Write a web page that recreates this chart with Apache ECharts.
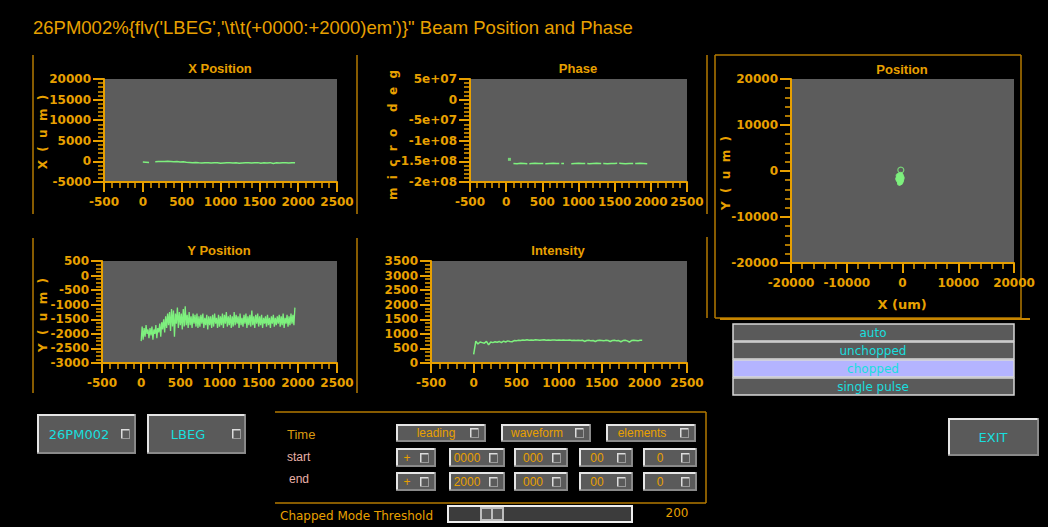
<!DOCTYPE html>
<html><head><meta charset="utf-8">
<script src="https://cdn.jsdelivr.net/npm/echarts@6/dist/echarts.min.js"></script>
<style>html,body{margin:0;padding:0;background:#000;}#c{width:1048px;height:527px;}</style>
</head><body><div id="c"></div>
<script>
// ---------- data ----------
const pageTitle = "26PM002%{flv('LBEG','\\t\\t(+0000:+2000)em')}\" Beam Position and Phase";
const plotTitles = ['X Position', 'Phase', 'Y Position', 'Intensity', 'Position'];
const timeTicks = [-500, 0, 500, 1000, 1500, 2000, 2500];
const phaseTickValues = [-200000000, -150000000, -100000000, -50000000, 0, 50000000];
const phaseTickLabels = ['-2e+08', '-1.5e+08', '-1e+08', '-5e+07', '0', '5e+07'];

// X position (um), samples every 40 from t=0
const xPosStart = 0, xPosStep = 40;
const xPosValues = [-150,-200,-250,null,-100,-50,0,-50,50,0,-100,-50,-150,-100,-200,-250,-300,-250,-350,-400,
  -300,-350,-400,-300,-350,-450,-400,-350,-300,-400,-350,-450,-400,-350,-300,-400,-350,-300,-450,-350,
  -400,-300,-500,-350,-400,-300,-350,-400,-300,-350];

// Phase (micro deg), samples every 50 from t=100
const phaseStart = 100, phaseStep = 50;
const phaseValues = [-155000000,-155500000,-154500000,-155000000,-156000000,-155000000,-154500000,-155000000,-155000000,-155500000,
  -155000000,-154500000,-155000000,-155500000,-155000000,null,-155500000,-155000000,-154500000,-155000000,
  -155000000,-155500000,-155000000,-154500000,-155000000,-155000000,-155500000,-155000000,-155000000,-154500000,
  -155000000,-155500000,-155000000,-155000000,-155000000,-154500000,-155000000,-155500000];
const phaseFirstPoint = [[45, -145000000]];

// Y position (um), samples every 12.5 from t=0
const yPosStart = 0, yPosStep = 12.5;
const yPosValues = [
  -2250,-1750,-2200,-1800,-2100,-1700,-2000,-1850,-2150,-1800,
  -2050,-1750,-2200,-1850,-2000,-1700,-2150,-1800,-1950,-1650,
  -2100,-1600,-1850,-1500,-1950,-1400,-1800,-1300,-1700,-1250,
  -1900,-1150,-1750,-1200,-2100,-1300,-1650,-1100,-1800,-1250,
  -1700,-1300,-1850,-1150,-1750,-1050,-1700,-1350,-1800,-1250,
  -1700,-1400,-1800,-1300,-1650,-1350,-1750,-1300,-1800,-1400,
  -1750,-1350,-1650,-1300,-1800,-1450,-1700,-1350,-1850,-1400,
  -1700,-1400,-1800,-1350,-1750,-1300,-1650,-1450,-1800,-1350,
  -1750,-1400,-1700,-1300,-1800,-1350,-1650,-1250,-1750,-1400,
  -1700,-1350,-1800,-1400,-1750,-1250,-1700,-1350,-1650,-1400,
  -1800,-1300,-1700,-1450,-1750,-1350,-1650,-1300,-1800,-1400,
  -1700,-1350,-1750,-1200,-1700,-1400,-1800,-1350,-1650,-1300,
  -1750,-1400,-1700,-1350,-1800,-1450,-1650,-1400,-1750,-1350,
  -1700,-1450,-1800,-1400,-1650,-1350,-1750,-1450,-1700,-1400,
  -1650,-1350,-1750,-1400,-1700,-1300,-1800,-1450,-1650,-1350,
  -1750,-1400,-1700,-1300,-1650,-1350,-1700,-1100];

// Intensity, samples every 25 from t=0
const intStart = 0, intStep = 25;
const intValues = [
  300,750,650,720,700,680,740,620,720,700,
  730,710,740,700,750,720,760,740,730,770,
  760,780,770,790,780,800,780,790,780,800,
  790,780,790,800,780,790,780,790,790,780,
  790,780,790,780,780,790,770,780,770,780,
  770,780,740,770,780,760,770,740,770,780,
  770,760,780,770,740,770,780,760,770,730,
  770,780,760,720,770,780,770,760,780,780];

// Beam position scatter (um)
const posX = [-800,-600,-400,-200,-700,-500,-300,-100,-900,-650,-450,-250,-50,-750,-550,-350,-150,-600,-400,-200,-500,-300,-700,-450,-350,-250,-550,-650];
const posY = [-1000,-900,-1100,-950,-1400,-1300,-1500,-1350,-1700,-1600,-1800,-1650,-1550,-2000,-1900,-2100,-1950,-2300,-2400,-2200,-2600,-2500,-1800,-1200,-700,-2000,-2700,-1100];
const posMarker = [[-300, 200]];

// Widgets
const modeButtons = ['auto', 'unchopped', 'chopped', 'single pulse'];
const selectedMode = 'chopped';
const deviceButtons = ['26PM002', 'LBEG'];
const timeHeaders = ['leading', 'waveform', 'elements'];
const startFields = ['+', '0000', '000', '00', '0'];
const endFields = ['+', '2000', '000', '00', '0'];
const thresholdValue = '200';

// ---------- build ----------
const ORANGE = '#e8a000';
const FRAME = '#b57a00';
const GREEN = '#7ef07e';
const CYAN = '#19dede';
const PLOTBG = '#5c5c5c';
const LBL_FONT = 'DejaVu Sans';

function series1(start, step, vals) { return vals.map((v, i) => [start + i * step, v]); }

const grids = [
  {left: 104, top: 79, width: 233, height: 103},
  {left: 470, top: 79, width: 217, height: 103},
  {left: 102, top: 261, width: 235, height: 102},
  {left: 431, top: 261, width: 256, height: 102},
  {left: 791, top: 79, width: 223, height: 184}
].map(g => Object.assign({show: true, backgroundColor: PLOTBG, borderWidth: 0, containLabel: false}, g));

function axis(gridIndex, min, max, interval, minorSplit, fmt, isY) {
  return {
    type: 'value', gridIndex, min, max, interval,
    axisLine: {show: true, onZero: false, lineStyle: {color: ORANGE, width: 2}},
    axisTick: {show: true, length: isY ? 11 : 10, lineStyle: {color: ORANGE, width: 2}},
    minorTick: {show: true, splitNumber: minorSplit, length: 6, lineStyle: {color: ORANGE, width: 1.5}},
    splitLine: {show: false}, minorSplitLine: {show: false},
    axisLabel: {color: ORANGE, fontFamily: LBL_FONT, fontWeight: 'bold', fontSize: 12, margin: isY ? 13 : 14,
      formatter: fmt || (v => String(v)), showMinLabel: true, showMaxLabel: true}
  };
}

const xAxes = [
  axis(0, timeTicks[0], timeTicks[timeTicks.length - 1], 500, 5),
  axis(1, timeTicks[0], timeTicks[timeTicks.length - 1], 500, 5),
  axis(2, timeTicks[0], timeTicks[timeTicks.length - 1], 500, 5),
  axis(3, timeTicks[0], timeTicks[timeTicks.length - 1], 500, 5),
  axis(4, -20000, 20000, 10000, 5)
];
const yAxes = [
  axis(0, -5000, 20000, 5000, 5, null, true),
  axis(1, phaseTickValues[0], phaseTickValues[phaseTickValues.length - 1], 50000000, 5,
    v => { const i = phaseTickValues.indexOf(v); return i >= 0 ? phaseTickLabels[i] : ''; }, true),
  axis(2, -3000, 500, 500, 4, null, true),
  axis(3, 0, 3500, 500, 4, null, true),
  axis(4, -20000, 20000, 10000, 5, null, true)
];

const lineBase = {type: 'line', showSymbol: false, symbol: 'none', lineStyle: {color: GREEN, width: 1.5}, silent: true, animation: false, connectNulls: false};
const series = [
  Object.assign({}, lineBase, {xAxisIndex: 0, yAxisIndex: 0, data: series1(xPosStart, xPosStep, xPosValues)}),
  Object.assign({}, lineBase, {xAxisIndex: 1, yAxisIndex: 1, lineStyle: {color: GREEN, width: 1.5, type: [14, 2]}, data: series1(phaseStart, phaseStep, phaseValues)}),
  {type: 'scatter', xAxisIndex: 1, yAxisIndex: 1, symbol: 'rect', symbolSize: 3, itemStyle: {color: GREEN}, data: phaseFirstPoint, animation: false},
  Object.assign({}, lineBase, {xAxisIndex: 2, yAxisIndex: 2, lineStyle: {color: GREEN, width: 1.3}, data: series1(yPosStart, yPosStep, yPosValues)}),
  Object.assign({}, lineBase, {xAxisIndex: 3, yAxisIndex: 3, data: series1(intStart, intStep, intValues)}),
  {type: 'scatter', xAxisIndex: 4, yAxisIndex: 4, symbolSize: 5, itemStyle: {color: GREEN}, data: posX.map((x, i) => [x, posY[i]]), animation: false},
  {type: 'scatter', xAxisIndex: 4, yAxisIndex: 4, symbolSize: 6, itemStyle: {color: 'transparent', borderColor: GREEN, borderWidth: 1.2}, data: posMarker, animation: false}
];

// ---------- graphics (texts, frames, widgets) ----------
const g = [];
function T(x, y, text, color, font, align, rot) {
  g.push({type: 'text', x, y, rotation: rot || 0, silent: true,
    style: {text, fill: color, font, align: align || 'center', verticalAlign: 'middle', textAlign: align || 'center', textVerticalAlign: 'middle'}});
}
function L(x1, y1, x2, y2, c, w) { g.push({type: 'line', silent: true, shape: {x1, y1, x2, y2}, style: {stroke: c || FRAME, lineWidth: w || 1.5}}); }
function R(x, y, w, h, fill, stroke, lw) { g.push({type: 'rect', silent: true, shape: {x, y, width: w, height: h}, style: {fill: fill, stroke: stroke || 'none', lineWidth: lw || 0}}); }
function bevel(x, y, w, h, fill) {
  R(x, y, w, h, '#8a8a8a');
  R(x, y, w - 1.5, h - 1.5, '#e6e6e6');
  R(x + 2, y + 2, w - 3.5, h - 3.5, fill || '#5a5a5a');
}
function icon(x, y) {
  R(x - 4, y - 5, 9, 10, '#9a9a9a');
  R(x - 4, y - 5, 8, 9, '#dcdcdc');
  R(x - 2.5, y - 3.5, 6.5, 7.5, '#5a5a5a');
}

// page title
T(33, 27, pageTitle, ORANGE, '18.5px "Liberation Sans"', 'left');

// plot titles
const TF = 'bold 13px "Liberation Sans"';
T(220, 68, plotTitles[0], ORANGE, TF);
T(578, 68, plotTitles[1], ORANGE, TF);
T(219, 250, plotTitles[2], ORANGE, TF);
T(558, 250, plotTitles[3], ORANGE, TF);
T(902, 69, plotTitles[4], ORANGE, TF);

// axis names (rotated)
const NF = 'bold 12px "DejaVu Sans"';
T(43, 132, 'X  (  u  m  )', ORANGE, NF, 'center', Math.PI / 2);
T(393, 135, 'm  i  c  r  o    d  e  g', ORANGE, NF, 'center', Math.PI / 2);
T(43, 315, 'Y  (  u  m  )', ORANGE, NF, 'center', Math.PI / 2);
T(726, 173, 'Y  (  u  m  )', ORANGE, NF, 'center', Math.PI / 2);
T(902, 304, 'X (um)', ORANGE, 'bold 13px "DejaVu Sans"');

// frames
L(33, 55, 33, 214); L(357, 55, 357, 214);
L(33, 238, 33, 393); L(357, 238, 357, 393);
L(707, 55, 707, 214); L(707, 237, 707, 318);
L(715, 55, 1021, 55); L(715, 55, 715, 318); L(1021, 55, 1021, 318); L(715, 318, 1021, 318);
L(720, 319, 1030, 319, '#c78500', 2);

// mode buttons
const modeY = [324, 342, 360, 378];
modeButtons.forEach((m, i) => {
  const sel = m === selectedMode;
  R(733, modeY[i], 281, 17, sel ? '#b4b4ff' : '#5a5a5a', '#d8d8d8', 1.5);
  T(873, modeY[i] + 9, m, CYAN, '12px "DejaVu Sans"');
});

// device buttons
bevel(37, 414, 99, 40); T(79, 434, deviceButtons[0], CYAN, '13px "DejaVu Sans"'); icon(125, 434);
bevel(147, 414, 99, 40); T(188, 434, deviceButtons[1], CYAN, '13px "DejaVu Sans"'); icon(236, 434);

// time box
L(275, 412, 706, 412); L(706, 412, 706, 503); L(275, 503, 706, 503);
T(287, 434, 'Time', '#d99a10', '13px "Liberation Sans"', 'left');
T(287, 457, 'start', '#e8b0a8', '12px "Liberation Sans"', 'left');
T(289, 479, 'end', '#e8b0a8', '12px "Liberation Sans"', 'left');
const hdrX = [396, 501, 606];
timeHeaders.forEach((h, i) => {
  bevel(hdrX[i], 424, 90, 18);
  T(hdrX[i] + (i === 0 ? 40 : 36), 433, h, ORANGE, '12px "Liberation Sans"');
  icon(hdrX[i] + 78, 433);
});
const fX = [396, 449, 514, 579, 643];
const fW = [40, 56, 54, 54, 54];
const fTx = [407, 467, 533, 597, 660];
[[startFields, 448], [endFields, 472]].forEach(([arr, y]) => {
  arr.forEach((v, i) => {
    bevel(fX[i], y, fW[i], 19);
    T(fTx[i], y + 10, v, ORANGE, '12px "Liberation Sans"');
    icon(fX[i] + fW[i] - 12, y + 10);
  });
});

// threshold slider
T(280, 516, 'Chapped Mode Threshold', ORANGE, '12px "DejaVu Sans"', 'left');
R(447, 505, 186, 18, '#f0f0f0');
R(449, 507, 182, 14, '#3c3c3c');
R(480, 507, 24, 14, '#bdbdbd');
R(482, 509, 9, 10, '#5a5a5a'); R(493, 509, 9, 10, '#5a5a5a');
T(677, 513, thresholdValue, ORANGE, '12px "DejaVu Sans"');

// exit
bevel(948, 418, 91, 38); T(993, 437, 'EXIT', CYAN, '13px "DejaVu Sans"');

const chart = echarts.init(document.getElementById('c'), null, {renderer: 'svg', width: 1048, height: 527});
chart.setOption({
  backgroundColor: '#000',
  animation: false,
  grid: grids,
  xAxis: xAxes,
  yAxis: yAxes,
  series: series,
  graphic: g
});
</script>
</body></html>
